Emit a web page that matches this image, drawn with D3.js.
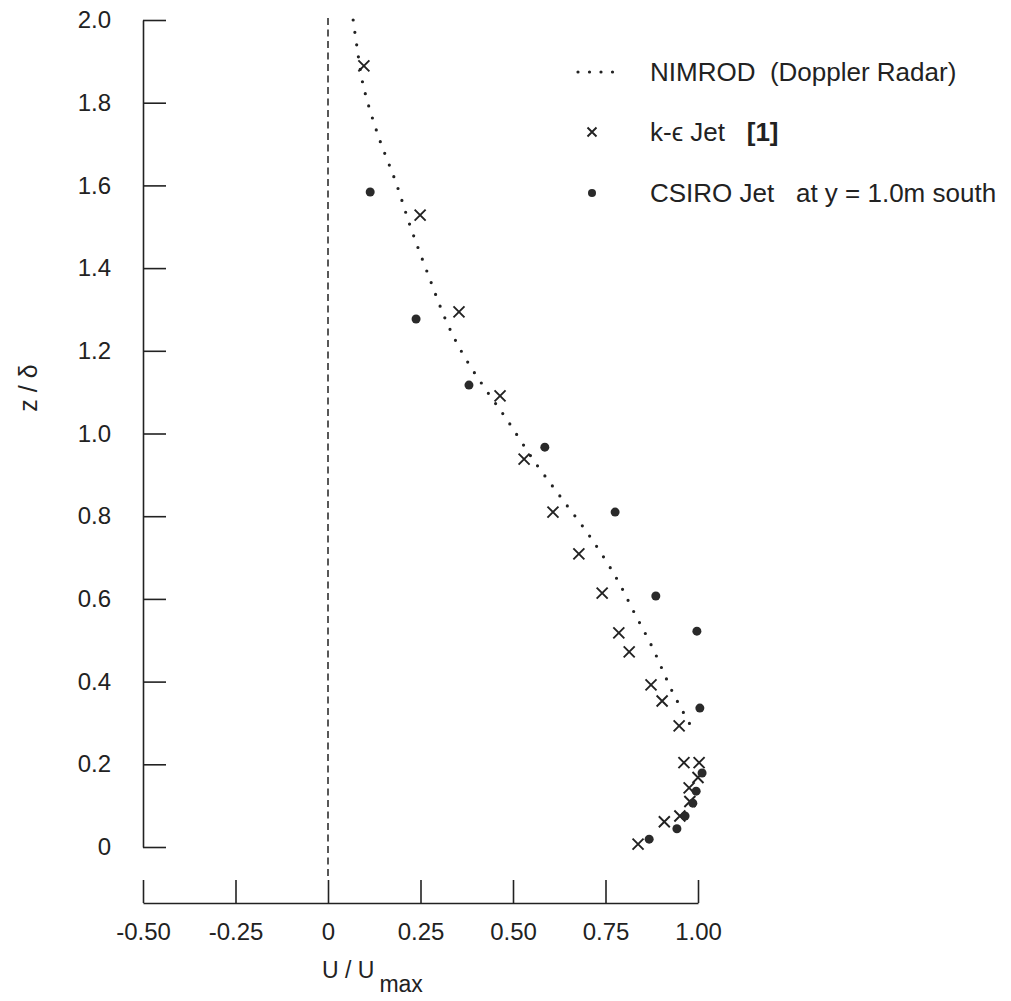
<!DOCTYPE html>
<html>
<head>
<meta charset="utf-8">
<script src="https://cdn.jsdelivr.net/npm/d3@7"></script>
<style>
  body { margin: 0; background: #fff; }
  text { font-family: "Liberation Sans", Arial, sans-serif; fill: #222; }
</style>
</head>
<body>
<div id="chart"></div>
<script>
// NIMROD (Doppler Radar) profile
var nimrodU = [0.068, 0.078, 0.095, 0.135, 0.184, 0.224, 0.270, 0.322, 0.368, 0.422, 0.484, 0.559, 0.635, 0.711, 0.781, 0.827, 0.876, 0.930, 0.978];
var nimrodZ = [2.000, 1.937, 1.843, 1.722, 1.606, 1.497, 1.386, 1.267, 1.187, 1.112, 1.033, 0.931, 0.839, 0.747, 0.648, 0.568, 0.484, 0.377, 0.297];

// k-e Jet [1]
var keU = [0.097, 0.249, 0.354, 0.465, 0.530, 0.608, 0.678, 0.741, 0.786, 0.814, 0.873, 0.903, 0.949, 0.962, 1.003, 1.000, 0.976, 0.978, 0.951, 0.909, 0.838];
var keZ = [1.889, 1.528, 1.294, 1.091, 0.938, 0.810, 0.709, 0.614, 0.518, 0.472, 0.392, 0.353, 0.293, 0.204, 0.204, 0.168, 0.143, 0.110, 0.075, 0.061, 0.007];

// CSIRO Jet at y = 1.0m south
var csiroU = [0.114, 0.238, 0.381, 0.586, 0.776, 0.886, 0.997, 1.005, 1.011, 0.995, 0.986, 0.965, 0.943, 0.868];
var csiroZ = [1.584, 1.277, 1.117, 0.967, 0.810, 0.607, 0.522, 0.336, 0.179, 0.135, 0.106, 0.075, 0.044, 0.019];

var xTicks = [-0.5, -0.25, 0, 0.25, 0.5, 0.75, 1.0];
var xTickLabels = ["-0.50", "-0.25", "0", "0.25", "0.50", "0.75", "1.00"];
var yTicks = [0, 0.2, 0.4, 0.6, 0.8, 1.0, 1.2, 1.4, 1.6, 1.8, 2.0];
var yTickLabels = ["0", "0.2", "0.4", "0.6", "0.8", "1.0", "1.2", "1.4", "1.6", "1.8", "2.0"];

var legendLabels = ["NIMROD  (Doppler Radar)", "k-\u03f5 Jet   ", "CSIRO Jet   at y = 1.0m south"];

function profileChart() {
	var width = 1011;
	var height = 1001;
	var ink = "#222";

	var x = d3.scaleLinear().domain([-0.5, 1.0]).range([143, 698]);
	var y = d3.scaleLinear().domain([0, 2.0]).range([847, 20]);

	var svg = d3.select("#chart").append("svg")
		.attr("width", width)
		.attr("height", height);

	// y axis, ticks pointing inward
	var yAxis = d3.axisLeft(y)
		.tickValues(yTicks)
		.tickFormat(function(d, i) { return yTickLabels[i]; })
		.tickSizeInner(-23)
		.tickSizeOuter(0)
		.tickPadding(32);

	var gy = svg.append("g")
		.attr("transform", "translate(" + x(-0.5) + ",0)")
		.call(yAxis);

	// x axis sits below the plot, separate from the y axis
	var xAxis = d3.axisBottom(x)
		.tickValues(xTicks)
		.tickFormat(function(d, i) { return xTickLabels[i]; })
		.tickSizeInner(-23)
		.tickSizeOuter(0)
		.tickPadding(20);

	var gx = svg.append("g")
		.attr("transform", "translate(0,903)")
		.call(xAxis);

	[gx, gy].forEach(function(g) {
		g.selectAll("path, line").attr("stroke", ink).attr("stroke-width", 1.6);
		g.selectAll("text").attr("fill", ink).style("font-size", "24px")
			.style("font-family", "'Liberation Sans', Arial, sans-serif");
	});

	// dashed zero line
	svg.append("line")
		.attr("x1", x(0)).attr("x2", x(0))
		.attr("y1", y(2.0) - 2).attr("y2", 880)
		.attr("stroke", ink)
		.attr("stroke-width", 1.5)
		.attr("stroke-dasharray", "7,4.5");

	// NIMROD dotted curve
	var pts = nimrodU.map(function(u, i) { return [u, nimrodZ[i]]; });
	var line = d3.line()
		.x(function(d) { return x(d[0]); })
		.y(function(d) { return y(d[1]); })
		.curve(d3.curveCatmullRom);

	svg.append("path")
		.datum(pts)
		.attr("d", line)
		.attr("fill", "none")
		.attr("stroke", ink)
		.attr("stroke-width", 3.2)
		.attr("stroke-linecap", "round")
		.attr("stroke-dasharray", "0,12.5");

	// k-e crosses
	var cross = function(sel, s) {
		sel.append("path")
			.attr("d", "M" + (-s) + "," + (-s) + "L" + s + "," + s + "M" + (-s) + "," + s + "L" + s + "," + (-s))
			.attr("stroke", ink)
			.attr("stroke-width", 1.9)
			.attr("fill", "none");
	};

	keU.forEach(function(u, i) {
		var g = svg.append("g").attr("transform", "translate(" + x(u) + "," + y(keZ[i]) + ")");
		cross(g, 5.5);
	});

	// CSIRO dots
	svg.selectAll(".csiro")
		.data(csiroU)
		.enter().append("circle")
		.attr("class", "csiro")
		.attr("cx", function(d) { return x(d); })
		.attr("cy", function(d, i) { return y(csiroZ[i]); })
		.attr("r", 4.5)
		.attr("fill", "#2a2a2a");

	// legend
	var legendY = [72, 132, 193];
	svg.append("path")
		.attr("d", "M578," + legendY[0] + "L614," + legendY[0])
		.attr("stroke", ink)
		.attr("stroke-width", 3.2)
		.attr("stroke-linecap", "round")
		.attr("stroke-dasharray", "0,11.5");
	cross(svg.append("g").attr("transform", "translate(592," + legendY[1] + ")"), 4.5);
	svg.append("circle").attr("cx", 592).attr("cy", legendY[2]).attr("r", 4).attr("fill", "#2a2a2a");

	legendLabels.forEach(function(t, i) {
		var txt = svg.append("text")
			.attr("x", 650)
			.attr("y", legendY[i] + 9)
			.style("font-size", "26px")
			.style("white-space", "pre")
			.text(t);
		if (i === 1) {
			txt.append("tspan").style("font-weight", "bold").text("[1]");
		}
	});

	// axis titles
	var xt = svg.append("text")
		.attr("x", 322)
		.attr("y", 978)
		.style("font-size", "23px")
		.style("white-space", "pre")
		.text("U / U");
	xt.append("tspan").attr("dx", 5).attr("dy", 14).text("max");

	svg.append("text")
		.attr("transform", "translate(37,388) rotate(-90)")
		.attr("text-anchor", "middle")
		.style("font-size", "25px")
		.text("z / \u03b4");
}

profileChart();
</script>
</body>
</html>
